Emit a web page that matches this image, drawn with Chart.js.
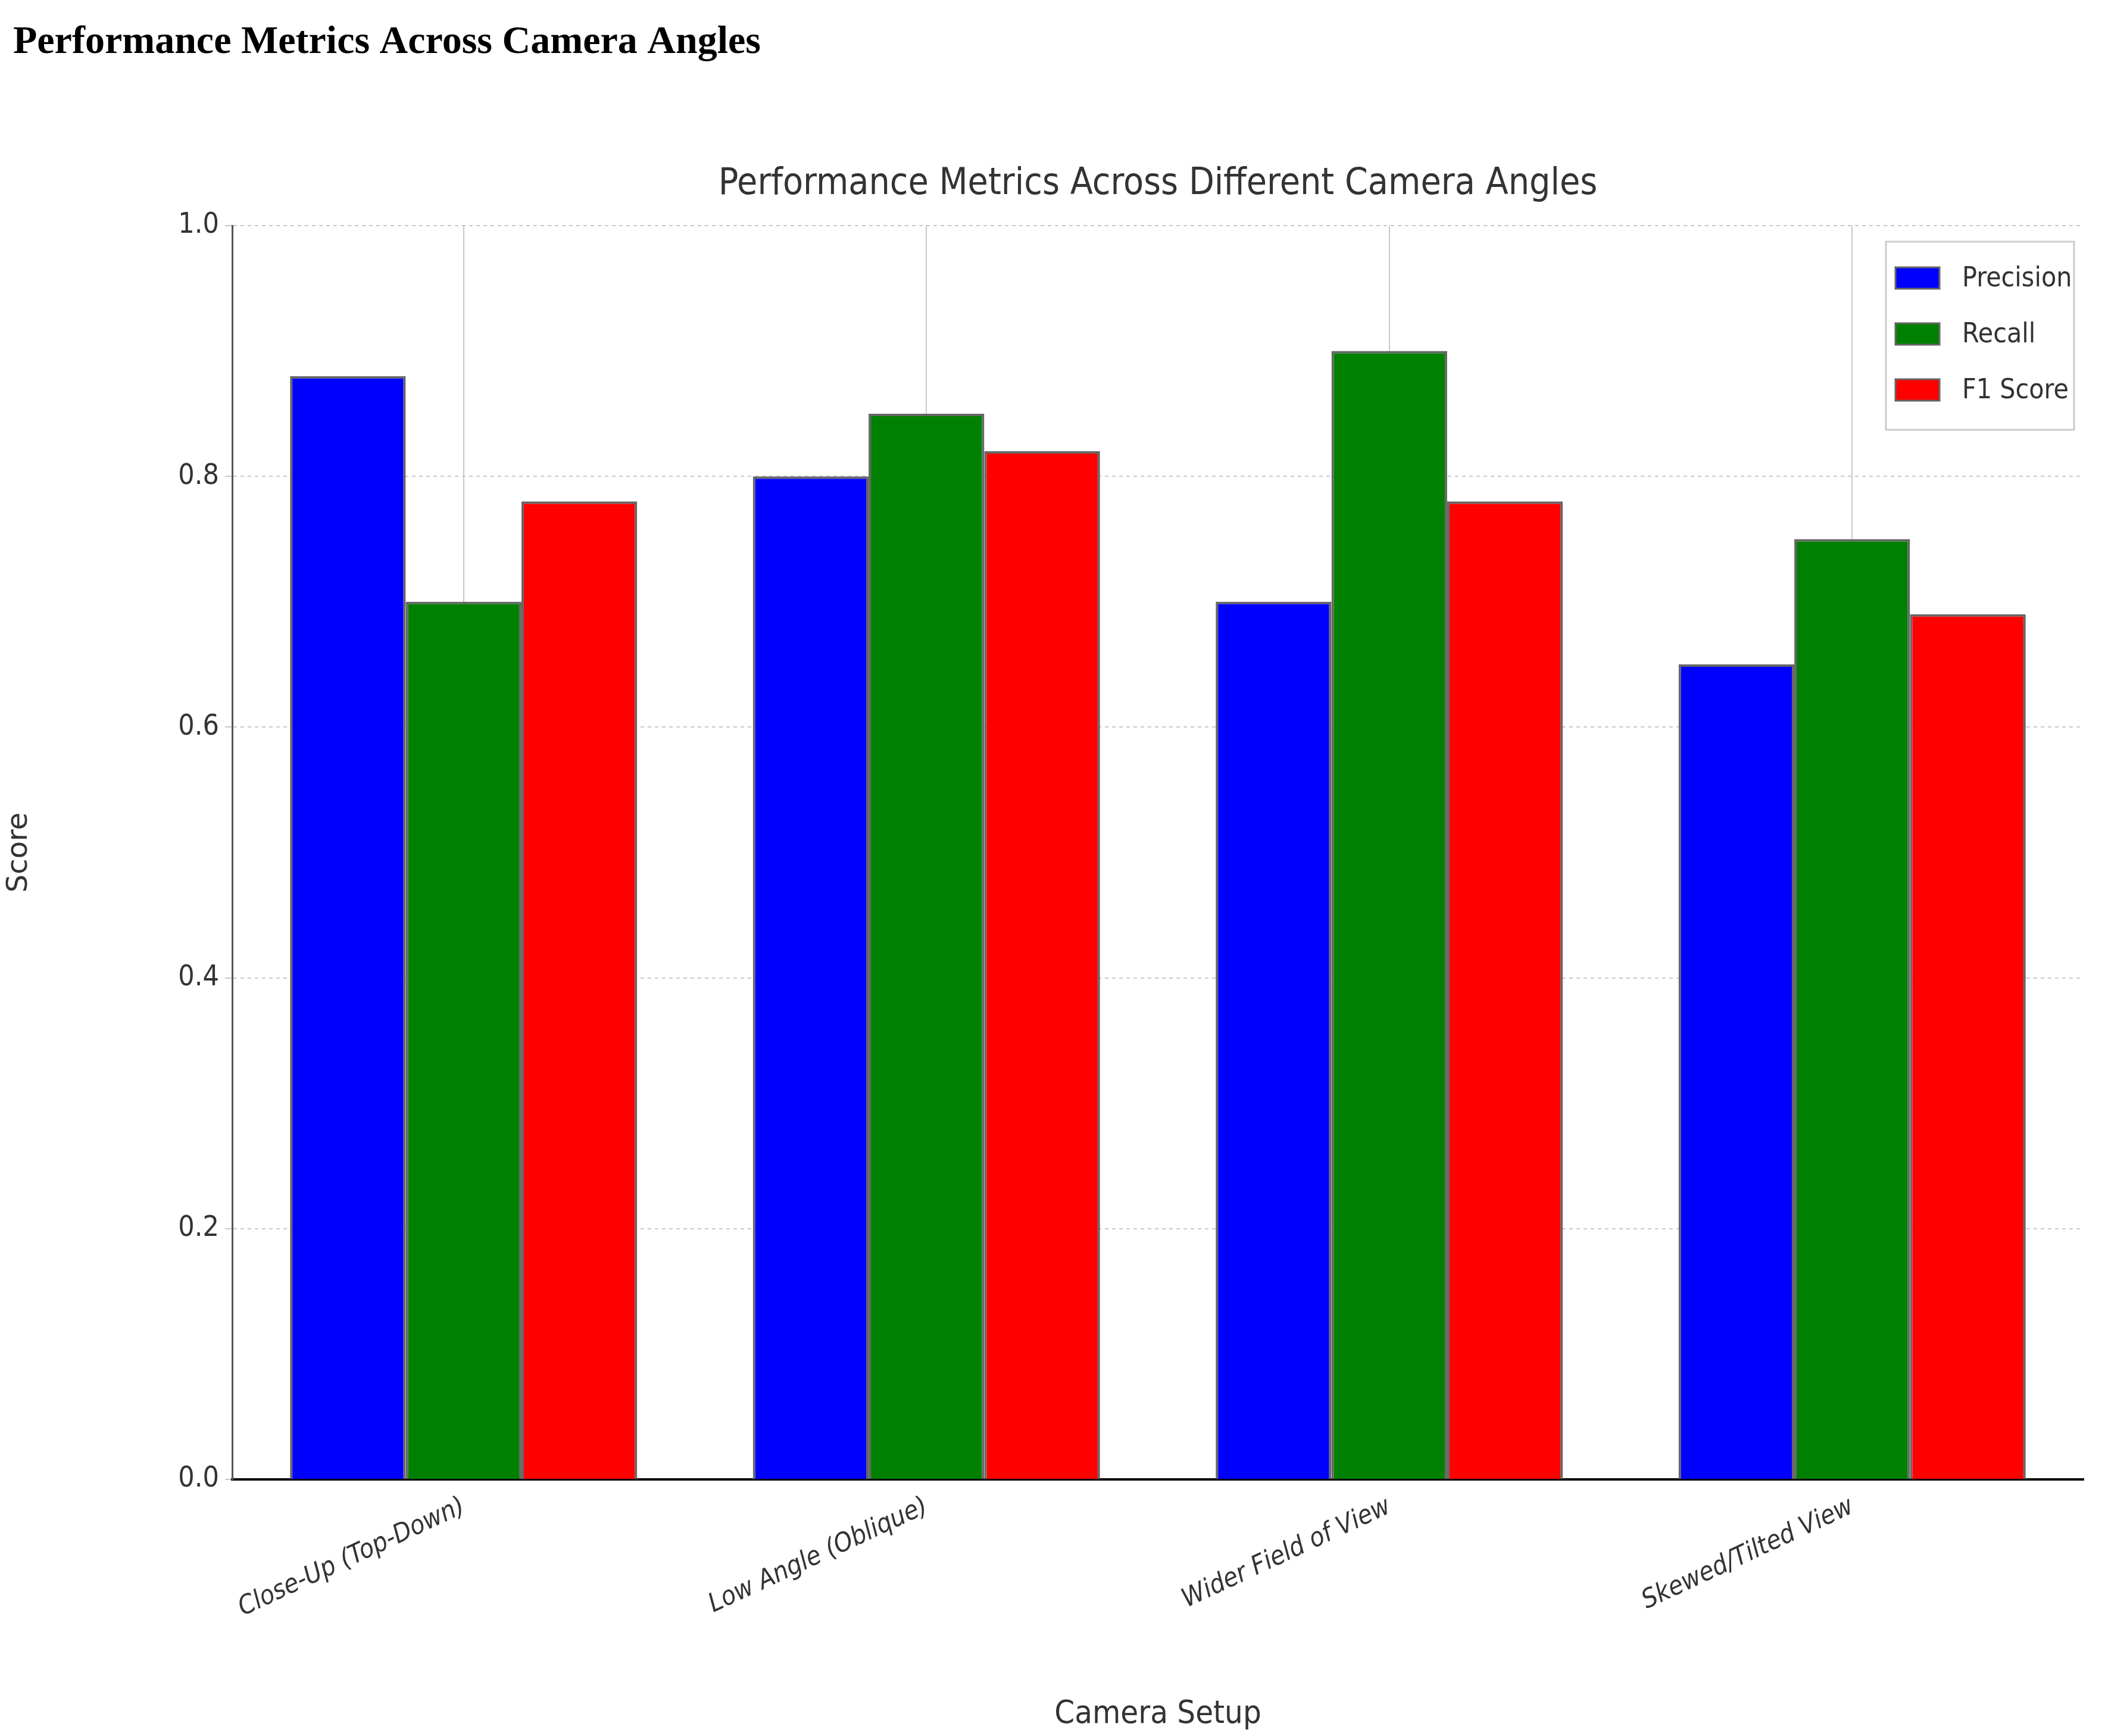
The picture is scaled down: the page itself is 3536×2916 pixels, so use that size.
<!DOCTYPE html>
<html>
<head>
<meta charset="utf-8">
<script src="https://cdn.jsdelivr.net/npm/chart.js@4/dist/chart.umd.min.js"></script>
<style>
  html, body { margin: 0; padding: 0; background: #fff; }
  #wrap { width: 3536px; height: 2916px; position: relative; }
</style>
</head>
<body>
<div id="wrap"><canvas id="c" width="3536" height="2916"></canvas></div>
<script>
const categories = ['Close-Up (Top-Down)', 'Low Angle (Oblique)', 'Wider Field of View', 'Skewed/Tilted View'];
const precision = [0.88, 0.80, 0.70, 0.65];
const recall = [0.70, 0.85, 0.90, 0.75];
const f1Score = [0.78, 0.82, 0.78, 0.69];
const seriesNames = ['Precision', 'Recall', 'F1 Score'];
const seriesColors = ['#0000ff', '#008000', '#ff0000'];
const yTicks = [0, 0.2, 0.4, 0.6, 0.8, 1.0];

const COND = '"DejaVu Sans Condensed", "DejaVu Sans", sans-serif';

// titles + boxed legend, drawn by hand
const decorations = {
    id: 'decorations',
    afterDraw(chart) {
        const ctx = chart.ctx;
        const area = chart.chartArea;
        ctx.save();
        ctx.fillStyle = '#000';
        ctx.font = 'bold 66px "Liberation Serif", "DejaVu Serif", serif';
        ctx.textAlign = 'left';
        ctx.textBaseline = 'middle';
        ctx.fillText('Performance Metrics Across Camera Angles', 22, 72);

        ctx.fillStyle = '#333';
        ctx.font = '62px ' + COND;
        ctx.textAlign = 'center';
        ctx.fillText('Performance Metrics Across Different Camera Angles', (area.left + area.right) / 2, 310);

        // legend
        const lx = 3168, ly = 406, lw = 316, lh = 316;
        ctx.fillStyle = 'rgba(255,255,255,0.85)';
        ctx.strokeStyle = '#cccccc';
        ctx.lineWidth = 3;
        ctx.fillRect(lx, ly, lw, lh);
        ctx.strokeRect(lx, ly, lw, lh);
        ctx.font = '46px ' + COND;
        ctx.textAlign = 'left';
        seriesNames.forEach((name, i) => {
            const cy = 467 + i * 94;
            ctx.fillStyle = seriesColors[i];
            ctx.fillRect(lx + 16, cy - 18, 74, 36);
            ctx.strokeStyle = '#666';
            ctx.lineWidth = 3;
            ctx.strokeRect(lx + 16, cy - 18, 74, 36);
            ctx.fillStyle = '#333';
            ctx.fillText(name, lx + 128, cy + 2);
        });
        ctx.restore();
    }
};

new Chart(document.getElementById('c'), {
    type: 'bar',
    data: {
        labels: categories,
        datasets: [precision, recall, f1Score].map((d, i) => ({
            label: seriesNames[i],
            data: d,
            backgroundColor: seriesColors[i],
            borderColor: '#666666',
            borderWidth: 4,
            barPercentage: 1.0,
            categoryPercentage: 0.75
        }))
    },
    options: {
        responsive: false,
        animation: false,
        devicePixelRatio: 1,
        layout: { padding: { top: 379, right: 36, left: 0, bottom: 0 } },
        plugins: { legend: { display: false }, title: { display: false }, tooltip: { enabled: false } },
        scales: {
            x: {
                afterFit: s => { s.height = 431; },
                grid: { offset: false, color: '#c8c8c8', lineWidth: 2, tickLength: 0 },
                border: { color: '#000', width: 4, dash: [] },
                ticks: {
                    minRotation: 25, maxRotation: 25, padding: 20, color: '#333',
                    font: { family: COND, size: 44, style: 'italic' }
                },
                title: { display: true, text: 'Camera Setup', color: '#333', font: { family: COND, size: 54 }, padding: { top: 40 } }
            },
            y: {
                min: 0, max: 1,
                afterFit: s => { s.width = 390; },
                afterBuildTicks: s => { s.ticks = yTicks.map(v => ({ value: v })); },
                grid: { color: '#c8c8c8', lineWidth: 2, tickLength: 12 },
                border: { color: '#555', width: 3, dash: [6, 6] },
                ticks: {
                    color: '#333', padding: 10,
                    font: { family: COND, size: 48 },
                    callback: v => v.toFixed(1)
                },
                title: { display: true, text: 'Score', color: '#333', font: { family: '"DejaVu Sans", sans-serif', size: 48 }, padding: { bottom: 60 } }
            }
        }
    },
    plugins: [decorations]
});

// dashed grid lines
Chart.defaults.scale.grid.borderDash = [6, 6];
</script>
</body>
</html>
